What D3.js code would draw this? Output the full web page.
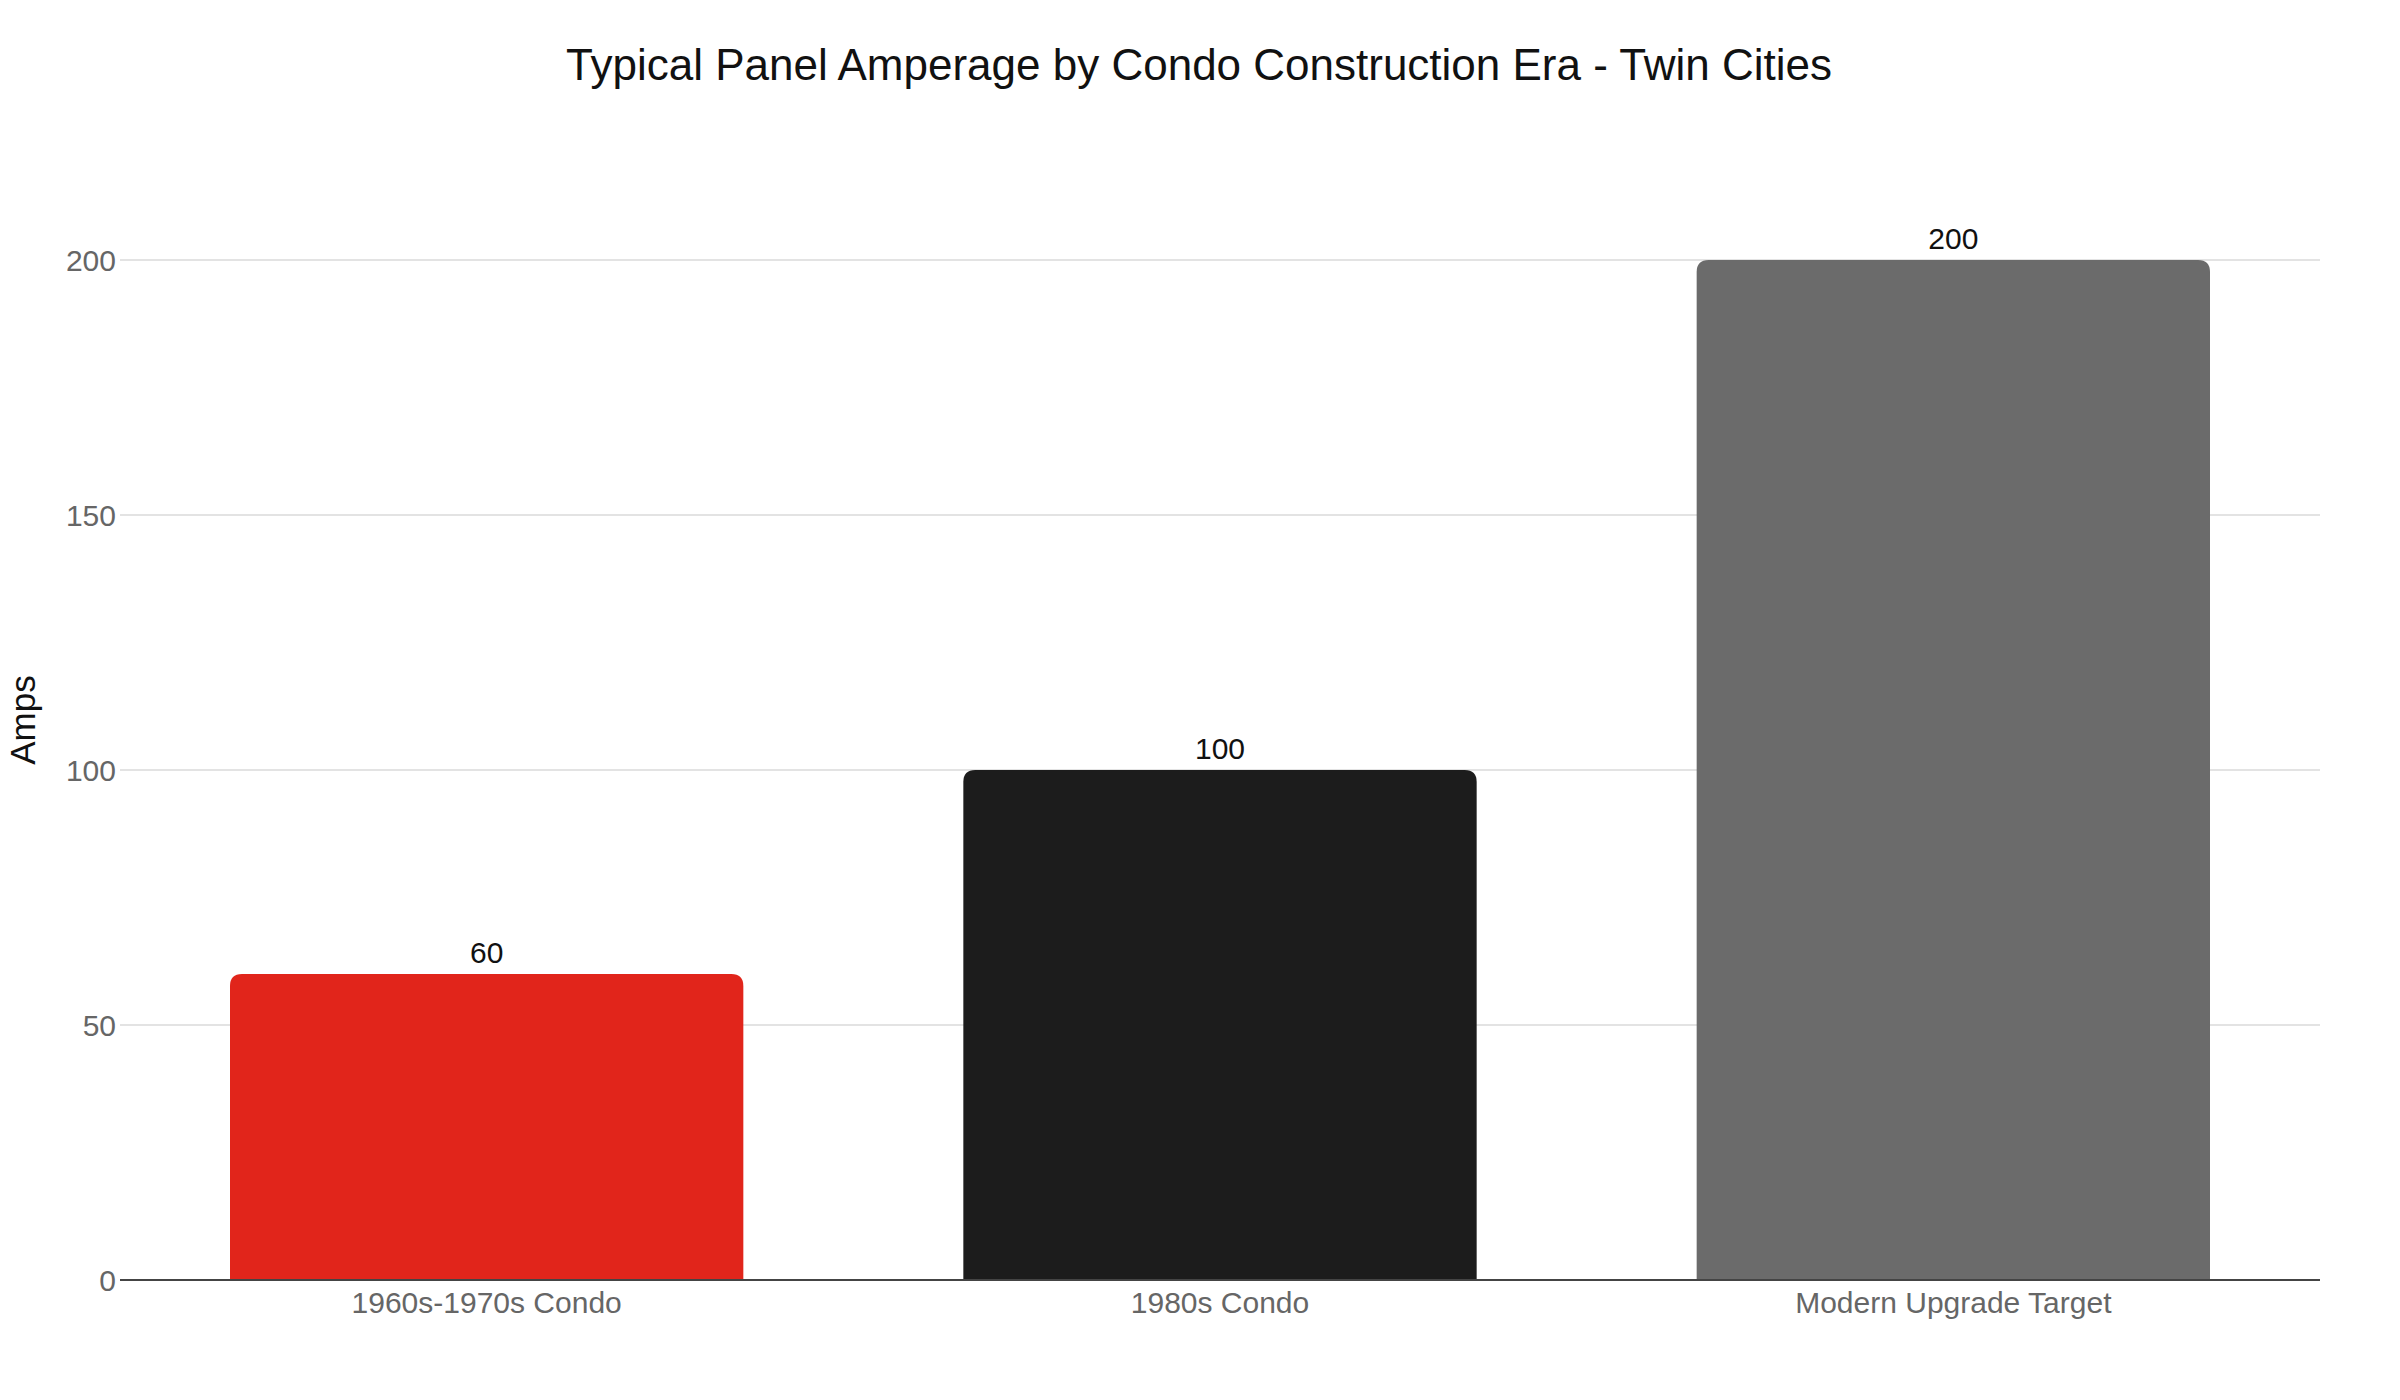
<!DOCTYPE html>
<html>
<head>
  <meta charset="utf-8">
  <script src="https://cdn.jsdelivr.net/npm/d3@7"></script>
  <style>
    body { margin: 0; background: #fff; }
    text { font-family: "Liberation Sans", Arial, Helvetica, sans-serif; }
  </style>
</head>
<body>
<svg id="chart" width="2400" height="1400"></svg>
<script>
  // chart data
  var categories = ['1960s-1970s Condo', '1980s Condo', 'Modern Upgrade Target'];
  var amps = [60, 100, 200];
  var barColors = ['#e1251b', '#1c1c1c', '#6b6b6b'];
  var yTicks = [0, 50, 100, 150, 200];

  var W = 2400, H = 1400;
  var margin = { top: 260, right: 80, bottom: 120, left: 120 };

  var svg = d3.select('#chart');
  svg.append('rect').attr('width', W).attr('height', H).attr('fill', '#fff');

  var x = d3.scaleBand()
    .domain(categories)
    .range([margin.left, W - margin.right])
    .paddingInner(0.3)
    .paddingOuter(0.15);

  var y = d3.scaleLinear()
    .domain([0, 200])
    .range([H - margin.bottom, margin.top]);

  // grid lines
  svg.append('g')
    .selectAll('line')
    .data(yTicks.filter(function(d) { return d > 0 }))
    .enter()
    .append('line')
    .attr('x1', margin.left)
    .attr('x2', W - margin.right)
    .attr('y1', function(d) { return y(d) })
    .attr('y2', function(d) { return y(d) })
    .attr('stroke', '#e3e3e3')
    .attr('stroke-width', 2);

  // y axis labels
  var yAxis = svg.append('g')
    .attr('transform', 'translate(' + margin.left + ',0)')
    .call(d3.axisLeft(y).tickValues(yTicks).tickSize(0).tickPadding(4));
  yAxis.select('.domain').remove();
  yAxis.selectAll('text')
    .attr('fill', '#666')
    .style('font-size', '30px')
    .attr('dy', '0.35em');

  // bars with rounded tops
  function barPath(d, i) {
    var x0 = x(categories[i]), w = x.bandwidth();
    var top = y(d), bottom = y(0), r = 12;
    return 'M' + x0 + ',' + bottom +
      'V' + (top + r) +
      'Q' + x0 + ',' + top + ' ' + (x0 + r) + ',' + top +
      'H' + (x0 + w - r) +
      'Q' + (x0 + w) + ',' + top + ' ' + (x0 + w) + ',' + (top + r) +
      'V' + bottom + 'Z';
  }

  svg.append('g')
    .selectAll('path')
    .data(amps)
    .enter()
    .append('path')
    .attr('d', barPath)
    .attr('fill', function(d, i) { return barColors[i] });

  // value labels
  svg.append('g')
    .selectAll('text')
    .data(amps)
    .enter()
    .append('text')
    .attr('x', function(d, i) { return x(categories[i]) + x.bandwidth() / 2 })
    .attr('y', function(d) { return y(d) - 11 })
    .attr('text-anchor', 'middle')
    .attr('fill', '#111')
    .style('font-size', '30px')
    .text(function(d) { return d });

  // x axis
  var xAxis = svg.append('g')
    .attr('transform', 'translate(0,' + y(0) + ')')
    .call(d3.axisBottom(x).tickSize(0).tickPadding(12));
  xAxis.select('.domain')
    .attr('d', 'M' + margin.left + ',0H' + (W - margin.right))
    .attr('stroke', '#444')
    .attr('stroke-width', 2);
  xAxis.selectAll('text')
    .attr('fill', '#666')
    .style('font-size', '30px');

  // axis title
  svg.append('text')
    .attr('transform', 'translate(35,720) rotate(-90)')
    .attr('text-anchor', 'middle')
    .attr('fill', '#111')
    .style('font-size', '35px')
    .text('Amps');

  // chart title
  svg.append('text')
    .attr('x', 1199)
    .attr('y', 80)
    .attr('text-anchor', 'middle')
    .attr('fill', '#111')
    .style('font-size', '44px')
    .text('Typical Panel Amperage by Condo Construction Era - Twin Cities');
</script>
</body>
</html>
